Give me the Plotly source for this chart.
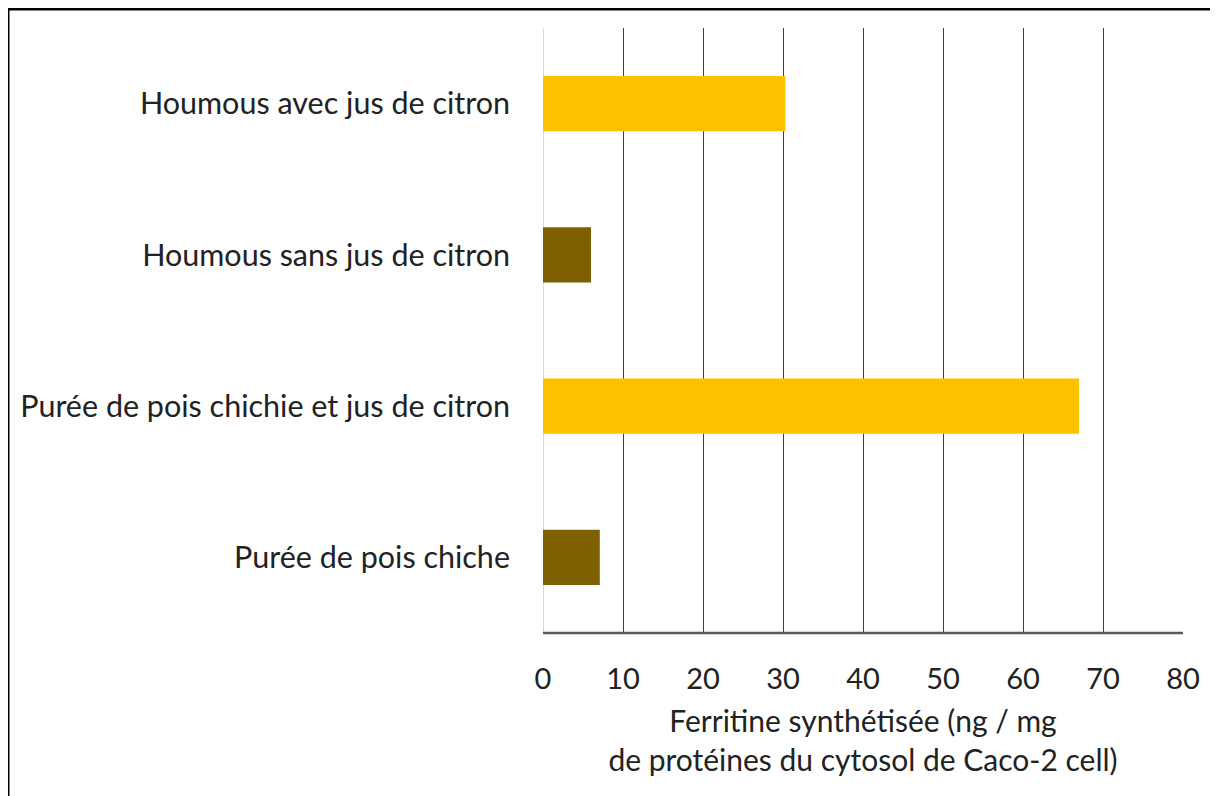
import plotly.graph_objects as go

categories = [
    "Purée de pois chiche",
    "Purée de pois chichie et jus de citron",
    "Houmous sans jus de citron",
    "Houmous avec jus de citron",
]
values = [7.1, 67.0, 6.0, 30.3]
bar_colors = ["#7F6000", "#FFC000", "#7F6000", "#FFC000"]
x_ticks = [0, 10, 20, 30, 40, 50, 60, 70, 80]
x_title = "Ferritine synthétisée (ng / mg<br>de protéines du cytosol de Caco-2 cell)"

FONT = "Lato"
OFF = 8  # page body margin offset
W, H = 1218 - OFF, 796 - OFF
ML = 543 - OFF
MT = 28 - OFF
MB = H - (633 - OFF)
MR = W - (1183 - OFF)
pw = W - ML - MR
ph = H - MT - MB

def px_x(px):
    return (px - OFF - ML) / pw

def px_y(py):
    return (H - MB - (py - OFF)) / ph

fig = go.Figure()
fig.add_trace(go.Bar(
    y=categories, x=values, orientation="h",
    marker=dict(color=bar_colors, line=dict(width=0)),
    showlegend=False,
))

fig.update_layout(
    width=W, height=H,
    margin=dict(l=ML, r=MR, t=MT, b=MB),
    paper_bgcolor="white", plot_bgcolor="white",
    bargap=0.636,
    font=dict(family=FONT, color="#222222", size=30),
    xaxis=dict(
        range=[0, 80], tickvals=x_ticks, ticktext=[str(v) for v in x_ticks],
        showgrid=True, gridcolor="#404040", gridwidth=1.3,
        zeroline=True, zerolinecolor="#d9d9d9", zerolinewidth=1,
        showline=False,
        ticks="", ticklabelstandoff=26,
        tickfont=dict(size=29, family=FONT, color="#222222"),
        title=dict(text=x_title, font=dict(size=30, family=FONT, color="#222222"), standoff=16),
        fixedrange=True,
    ),
    yaxis=dict(
        showgrid=False, zeroline=False, showline=False, ticks="",
        ticklabelstandoff=32,
        tickfont=dict(size=30.5, family=FONT, color="#222222"),
        fixedrange=True,
    ),
    shapes=[
        dict(type="line", xref="paper", yref="paper", x0=0, x1=1, y0=0, y1=0,
             line=dict(color="#595959", width=2.5)),
        dict(type="line", xref="paper", yref="paper", x0=px_x(8), x1=px_x(8), y0=px_y(805), y1=px_y(8),
             line=dict(color="black", width=3)),
        dict(type="line", xref="paper", yref="paper", x0=px_x(7), x1=px_x(1225), y0=px_y(9), y1=px_y(9),
             line=dict(color="black", width=3)),
        dict(type="line", xref="paper", yref="paper", x0=px_x(1216), x1=px_x(1216), y0=px_y(805), y1=px_y(10),
             line=dict(color="#dddddd", width=1)),
    ],
)

fig.write_html("out.html")
